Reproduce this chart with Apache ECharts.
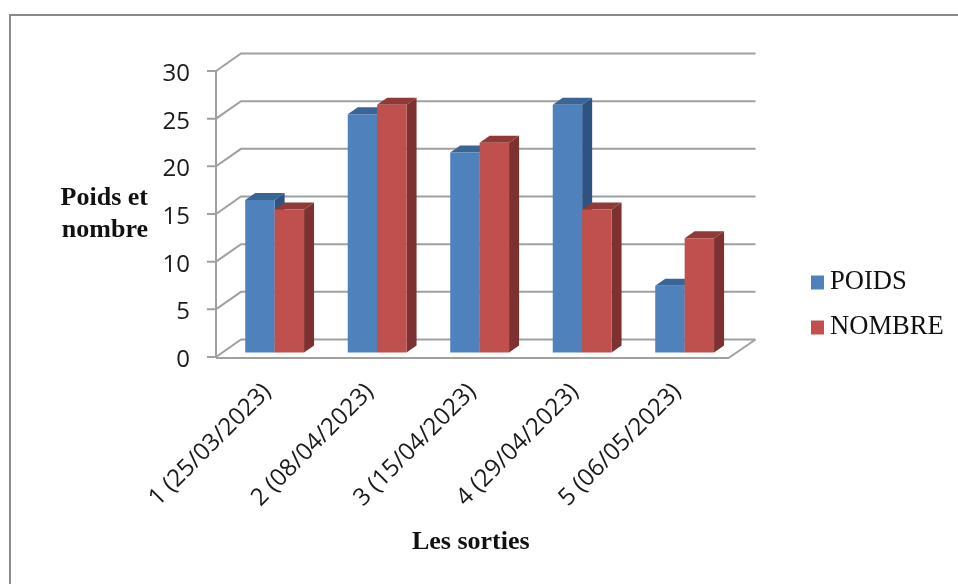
<!DOCTYPE html>
<html>
<head>
<meta charset="utf-8">
<style>html,body{margin:0;padding:0;background:#fff}#chart{width:958px;height:584px}</style>
<script src="https://cdn.jsdelivr.net/npm/echarts@6/dist/echarts.min.js"></script>
</head>
<body>
<div id="chart"></div>
<script>
const categories = ['1 (25/03/2023)', '2 (08/04/2023)', '3 (15/04/2023)', '4 (29/04/2023)', '5 (06/05/2023)'];
const poids = [16, 25, 21, 26, 7];
const nombre = [15, 26, 22, 15, 12];
const yTicks = [0, 5, 10, 15, 20, 25, 30];

// Oblique projection of the 3D box: wall depth, bar placement and bar depth
const WALL_DX = 25, WALL_DY = -17.5;
const BAR_DX = 7.4, BAR_DY = -4.4;
const BAR_DEPTH_DX = 10, BAR_DEPTH_DY = -7;
const BAR_BAND_RATIO = 0.287;
const AXIS_GRAY = '#a0a0a0';

function renderBar(side, front, top, flank) {
  return function (params, api) {
    const idx = api.value(0);
    const base = api.coord([idx, 0]);
    const head = api.coord([idx, api.value(1)]);
    const w = api.size([1, 0])[0] * BAR_BAND_RATIO;
    const x0 = base[0] + BAR_DX + (side < 0 ? -w : 0);
    const x1 = x0 + w;
    const y0 = base[1] + BAR_DY;
    const y1 = head[1] + BAR_DY;
    const dx = BAR_DEPTH_DX, dy = BAR_DEPTH_DY;
    const poly = (points, fill) => ({ type: 'polygon', shape: { points }, style: { fill } });
    return {
      type: 'group',
      children: [
        poly([[x1, y0], [x1 + dx, y0 + dy], [x1 + dx, y1 + dy], [x1, y1]], flank),
        poly([[x0, y1], [x0 + dx, y1 + dy], [x1 + dx, y1 + dy], [x1, y1]], top),
        poly([[x0, y0], [x1, y0], [x1, y1], [x0, y1]], front)
      ]
    };
  };
}

// Gridline on the two walls, with its tick and label on the front of the value axis
function renderWallLine(params, api) {
  const v = api.value(0);
  const cs = params.coordSys;
  const y = api.coord([0, v])[1];
  const left = cs.x, right = cs.x + cs.width;
  const stroke = { stroke: AXIS_GRAY, lineWidth: 2, fill: 'none' };
  const children = [
    { type: 'polyline', shape: { points: [[left - 9, y], [left, y], [left + WALL_DX, y + WALL_DY], [right + WALL_DX + 2, y + WALL_DY]] }, style: stroke },
    {
      type: 'text',
      x: left - 26,
      y: y + 3,
      style: { text: String(v), align: 'right', verticalAlign: 'middle', fontFamily: 'Open Sans', fontSize: 24, fill: '#1a1a1a' }
    }
  ];
  if (v === 0) {
    children.push({ type: 'polyline', shape: { points: [[left, y + 1], [right, y + 1], [right + WALL_DX + 2, y + WALL_DY]] }, style: stroke });
  }
  return { type: 'group', children };
}

const chart = echarts.init(document.getElementById('chart'), null, { renderer: 'canvas' });
chart.setOption({
  backgroundColor: '#ffffff',
  animation: false,
  grid: { left: 216, top: 71, width: 512.5, height: 286 },
  legend: {
    orient: 'vertical',
    left: 811,
    top: 269,
    padding: 0,
    itemWidth: 13,
    itemHeight: 14,
    itemGap: 18,
    icon: 'rect',
    data: ['POIDS', 'NOMBRE'],
    textStyle: { fontFamily: 'Liberation Serif', fontSize: 26.6, color: '#111111', padding: [0, 0, 0, 1] }
  },
  xAxis: {
    type: 'category',
    data: categories,
    boundaryGap: true,
    axisLine: { show: false },
    axisTick: { show: false },
    axisLabel: {
      rotate: 45,
      interval: 0,
      margin: 31,
      fontFamily: 'Open Sans',
      fontSize: 24,
      color: '#1a1a1a'
    },
    name: 'Les sorties',
    nameLocation: 'middle',
    nameGap: 172,
    nameTextStyle: { fontFamily: 'Liberation Serif', fontWeight: 'bold', fontSize: 26, color: '#111111', padding: [0, 3, 0, 0] }
  },
  yAxis: {
    type: 'value',
    min: 0,
    max: 30,
    interval: 5,
    axisLine: { show: true, lineStyle: { color: AXIS_GRAY, width: 2 } },
    axisTick: { show: false },
    splitLine: { show: false },
    axisLabel: { show: false },
    name: 'Poids et\nnombre',
    nameLocation: 'middle',
    nameRotate: 0,
    nameGap: 68,
    nameTextStyle: { fontFamily: 'Liberation Serif', fontWeight: 'bold', fontSize: 26, lineHeight: 32, color: '#111111', padding: [5, 0, 0, 0] }
  },
  graphic: [{
    type: 'polyline',
    silent: true,
    shape: { points: [[10, 584], [10, 15], [958, 15]] },
    style: { stroke: '#8a8a8a', lineWidth: 2, fill: 'none' }
  }],
  series: [
    {
      name: 'walls',
      type: 'custom',
      silent: true,
      clip: false,
      data: yTicks.map(v => [v]),
      encode: { y: 0 },
      renderItem: renderWallLine,
      z: 1
    },
    {
      name: 'POIDS',
      type: 'custom',
      itemStyle: { color: '#4f81bd' },
      data: poids.map((v, i) => [i, v]),
      encode: { x: 0, y: 1 },
      renderItem: renderBar(-1, '#4f81bd', '#3b6595', '#2f5380'),
      z: 2
    },
    {
      name: 'NOMBRE',
      type: 'custom',
      itemStyle: { color: '#c0504d' },
      data: nombre.map((v, i) => [i, v]),
      encode: { x: 0, y: 1 },
      renderItem: renderBar(1, '#c0504d', '#8f3a38', '#7d3130'),
      z: 3
    }
  ]
});
</script>
</body>
</html>
